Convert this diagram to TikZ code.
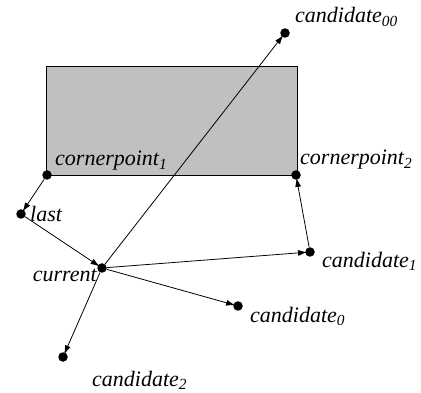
\documentclass[tikz,border=0pt]{standalone}
\usepackage{fontspec}
\setmainfont{Liberation Serif}
\usepackage{xcolor}
\usepackage{tikz}
\usetikzlibrary{arrows.meta}
\definecolor{boxgray}{RGB}{192,192,192}
\newcommand{\idx}[1]{\textsubscript{#1}}

\begin{document}
\begin{tikzpicture}[x=1pt,y=-1pt,
  dot/.style={circle,fill=black,inner sep=0pt,minimum size=9.5pt},
  lbl/.style={inner sep=0pt,font=\fontsize{22}{25}\selectfont\itshape},
  arr/.style={-{Latex[length=9pt,width=6pt]},line width=0.8pt,shorten >=-2pt}]
\useasboundingbox (0,0) rectangle (421,393);
\draw[fill=boxgray,line width=0.6pt] (46,66) rectangle (297,175);

\node[dot] (CP1) at (47,175) {};
\node[dot] (CP2) at (296,175) {};
\node[dot] (L) at (21,214) {};
\node[dot] (C) at (102,268) {};
\node[dot] (C00) at (285,33) {};
\node[dot] (C1) at (310,252) {};
\node[dot] (C0) at (238,306) {};
\node[dot] (C2) at (63,357) {};

\node[lbl,anchor=west] (tCP1) at (55,161) {cornerpoint\idx{1}};
\node[lbl,anchor=west] (tCP2) at (300,160) {cornerpoint\idx{2}};
\node[lbl,anchor=west] (tL) at (30,214) {last};
\node[lbl,anchor=east] (tC) at (97,275) {current};
\node[lbl,anchor=west] (tC00) at (295,17) {candidate\idx{00}};
\node[lbl,anchor=west] (tC1) at (322,261) {candidate\idx{1}};
\node[lbl,anchor=west] (tC0) at (250,316) {candidate\idx{0}};
\node[lbl,anchor=west] (tC2) at (92,380) {candidate\idx{2}};

\path (CP1) edge [arr] (L);
\path (L) edge [arr] (C);
\path (C) edge [arr] (C00);
\path (C) edge [arr] (C1);
\path (C) edge [arr] (C0);
\path (C) edge [arr] (C2);
\path (C1) edge [arr] (CP2);
\end{tikzpicture}
\end{document}
